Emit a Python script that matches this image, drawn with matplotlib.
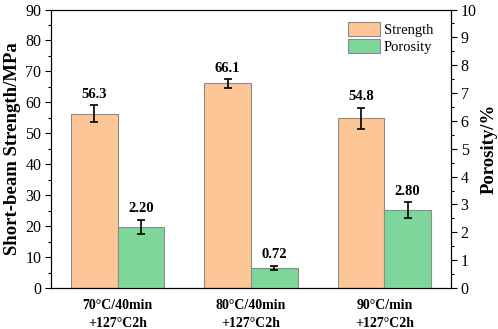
import matplotlib
matplotlib.use("Agg")
import matplotlib.pyplot as plt
import numpy as np
from matplotlib.ticker import MultipleLocator

plt.rcParams['font.family'] = ['Liberation Serif', 'DejaVu Serif']

categories = ["70°C/40min\n+127°C2h", "80°C/40min\n+127°C2h", "90°C/min\n+127°C2h"]
strength = [56.3, 66.1, 54.8]
strength_err = [2.8, 1.3, 3.4]
porosity = [2.20, 0.72, 2.80]
porosity_err = [0.25, 0.07, 0.28]
strength_labels = ["56.3", "66.1", "54.8"]
porosity_labels = ["2.20", "0.72", "2.80"]

c_str = "#FDC697"
c_por = "#7ED79A"
edge = "#8C8C8C"

fig = plt.figure(figsize=(4.98, 3.29), dpi=100)
ax = fig.add_axes([0.1024, 0.1246, 0.8032, 0.8464])
ax2 = ax.twinx()

x = np.arange(1, len(categories) + 1)
w = 0.35

b1 = ax.bar(x - w / 2, strength, w, color=c_str, edgecolor=edge, linewidth=0.8, label="Strength", zorder=2)
ax.errorbar(x - w / 2, strength, yerr=strength_err, fmt="none", ecolor="black", elinewidth=1.2, capsize=3, capthick=1.2, zorder=3)
b2 = ax2.bar(x + w / 2, porosity, w, color=c_por, edgecolor=edge, linewidth=0.8, label="Porosity", zorder=2)
ax2.errorbar(x + w / 2, porosity, yerr=porosity_err, fmt="none", ecolor="black", elinewidth=1.2, capsize=3, capthick=1.2, zorder=3)

for xi, v, e, t in zip(x - w / 2, strength, strength_err, strength_labels):
    ax.text(xi, v + e + 1.5, t, ha="center", va="bottom", fontsize=10.5, fontweight="bold")
for xi, v, e, t in zip(x + w / 2, porosity, porosity_err, porosity_labels):
    ax2.text(xi, v + e + 0.17, t, ha="center", va="bottom", fontsize=10.5, fontweight="bold")

ax.set_xlim(0.5, 3.5)
ax.set_ylim(0, 90)
ax2.set_ylim(0, 10)
ax.yaxis.set_major_locator(MultipleLocator(10))
ax.yaxis.set_minor_locator(MultipleLocator(5))
ax2.yaxis.set_major_locator(MultipleLocator(1))
ax2.yaxis.set_minor_locator(MultipleLocator(0.5))

ax.set_xticks(x)
ax.set_xticklabels(categories, fontsize=10, fontweight="bold", linespacing=1.45)
ax.tick_params(axis="x", length=0, pad=8)
ax.tick_params(axis="y", which="major", direction="out", length=4, width=0.8, labelsize=11.5, pad=3)
ax.tick_params(axis="y", which="minor", direction="out", length=2, width=0.8)
ax2.tick_params(axis="y", which="major", direction="out", length=4, width=0.8, labelsize=11.5, pad=3)
ax2.tick_params(axis="y", which="minor", direction="out", length=2, width=0.8)

for a in (ax, ax2):
    for s in a.spines.values():
        s.set_linewidth(0.8)

ax.set_ylabel("Short-beam Strength/MPa", fontsize=13.5, fontweight="bold", labelpad=3)
ax2.set_ylabel("Porosity/%", fontsize=13.5, fontweight="bold", labelpad=3)

ax2.legend([b1, b2], ["Strength", "Porosity"], loc="upper left", bbox_to_anchor=(0.7425, 0.955),
           frameon=False, fontsize=10.5, handlelength=2.2, handleheight=1.1, handletextpad=0.25,
           labelspacing=0.15, borderaxespad=0.0, borderpad=0.0)

fig.savefig("out.png", dpi=100)
